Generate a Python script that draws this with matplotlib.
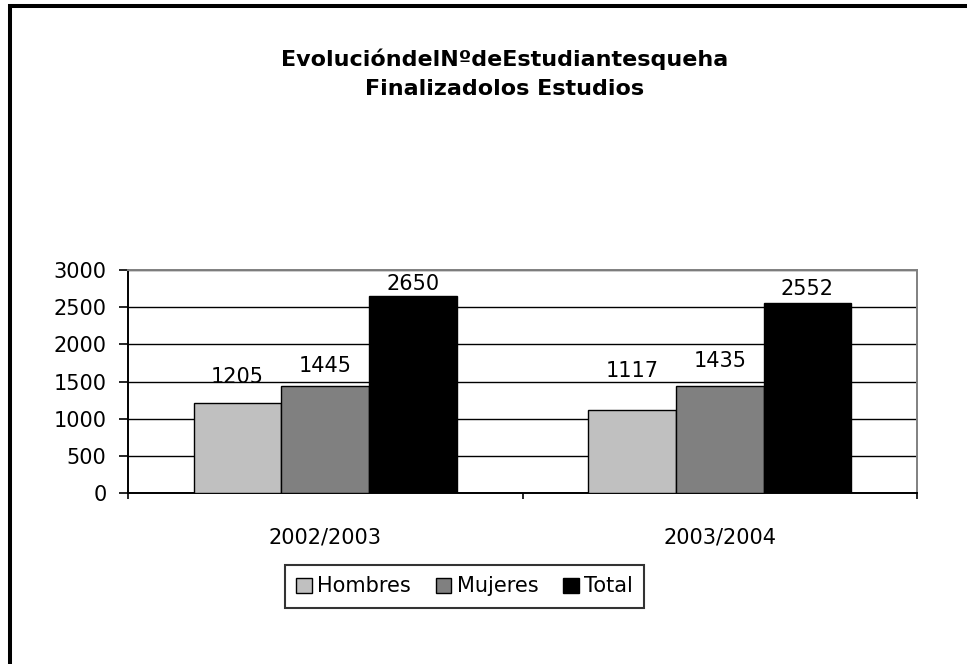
import matplotlib
matplotlib.use("Agg")
import matplotlib.pyplot as plt
from matplotlib.lines import Line2D
import numpy as np

# ---- data ----
categories = ["2002/2003", "2003/2004"]
series_names = ["Hombres", "Mujeres", "Total"]
hombres = [1205, 1117]
mujeres = [1445, 1435]
total = [2650, 2552]
yticks = [0, 500, 1000, 1500, 2000, 2500, 3000]
title_lines = ["EvolucióndelNºdeEstudiantesqueha", "Finalizadolos Estudios"]

# ---- style ----
colors = ["#C0C0C0", "#808080", "#000000"]
label_dy = [[20, 33], [14, 19], [6, 8]]  # pixel offsets of value labels above bars
FONT = "DejaVu Sans"
FS = 15
TFS = 16

W, H, DPI = 967, 664, 100
fig = plt.figure(figsize=(W / DPI, H / DPI), dpi=DPI)
fig.patch.set_facecolor("white")

def fx(px):
    return px / W

def fy(py):
    return 1 - py / H

ax = fig.add_axes([fx(128), fy(493), fx(917) - fx(128), fy(270) - fy(493)])

x = np.arange(len(categories))
bw = 0.222
all_series = [hombres, mujeres, total]
for i, (name, vals, col) in enumerate(zip(series_names, all_series, colors)):
    bars = ax.bar(x + (i - 1) * bw, vals, width=bw, color=col, edgecolor="black",
                  linewidth=1.0, label=name, zorder=3)
    for j, (b, v) in enumerate(zip(bars, vals)):
        ax.annotate(str(v), (b.get_x() + b.get_width() / 2, v),
                    xytext=(0, label_dy[i][j]), textcoords="offset pixels",
                    ha="center", va="baseline", fontsize=FS, family=FONT,
                    color="black", zorder=5)

ax.set_xlim(-0.5, len(categories) - 0.5)
ax.set_ylim(0, 3000)
ax.set_yticks(yticks)
ax.set_yticklabels([str(t) for t in yticks], fontsize=FS, family=FONT)
ax.yaxis.grid(True, color="black", linewidth=1.0, zorder=0)
ax.set_axisbelow(True)

ax.set_xticks(x)
ax.set_xticklabels(categories, fontsize=FS, family=FONT)
ax.set_xticks(np.arange(-0.5, len(categories)), minor=True)
ax.tick_params(axis="x", which="major", length=0, pad=25)
ax.tick_params(axis="x", which="minor", length=4, width=1.2, direction="out")
ax.tick_params(axis="y", which="major", length=6.5, width=1.2, pad=9, direction="out")

for s in ["left", "bottom"]:
    ax.spines[s].set_color("black")
    ax.spines[s].set_linewidth(1.4)
for s in ["top", "right"]:
    ax.spines[s].set_color("#808080")
    ax.spines[s].set_linewidth(1.4)

# title
fig.text(fx(505), fy(66), title_lines[0], ha="center", va="baseline",
         fontsize=TFS, fontweight="bold", family=FONT)
fig.text(fx(505), fy(95), title_lines[1], ha="center", va="baseline",
         fontsize=TFS, fontweight="bold", family=FONT)

# legend
leg = fig.legend(loc="center", bbox_to_anchor=(fx(464.5), fy(586.5)), ncol=3,
                 frameon=True, fancybox=False, shadow=False,
                 prop={"family": FONT, "size": FS},
                 handlelength=0.75, handleheight=0.75, handletextpad=0.25,
                 columnspacing=1.2, borderpad=0.55, borderaxespad=0)
leg.get_frame().set_edgecolor("black")
leg.get_frame().set_linewidth(1.5)

# outer border (top and left edges)
fig.add_artist(Line2D([fx(8), 1.0], [fy(6), fy(6)], color="black", linewidth=2.9,
                      transform=fig.transFigure, solid_capstyle="butt"))
fig.add_artist(Line2D([fx(10), fx(10)], [fy(4), 0.0], color="black", linewidth=2.9,
                      transform=fig.transFigure, solid_capstyle="butt"))

fig.savefig("out.png", dpi=DPI, facecolor="white")
